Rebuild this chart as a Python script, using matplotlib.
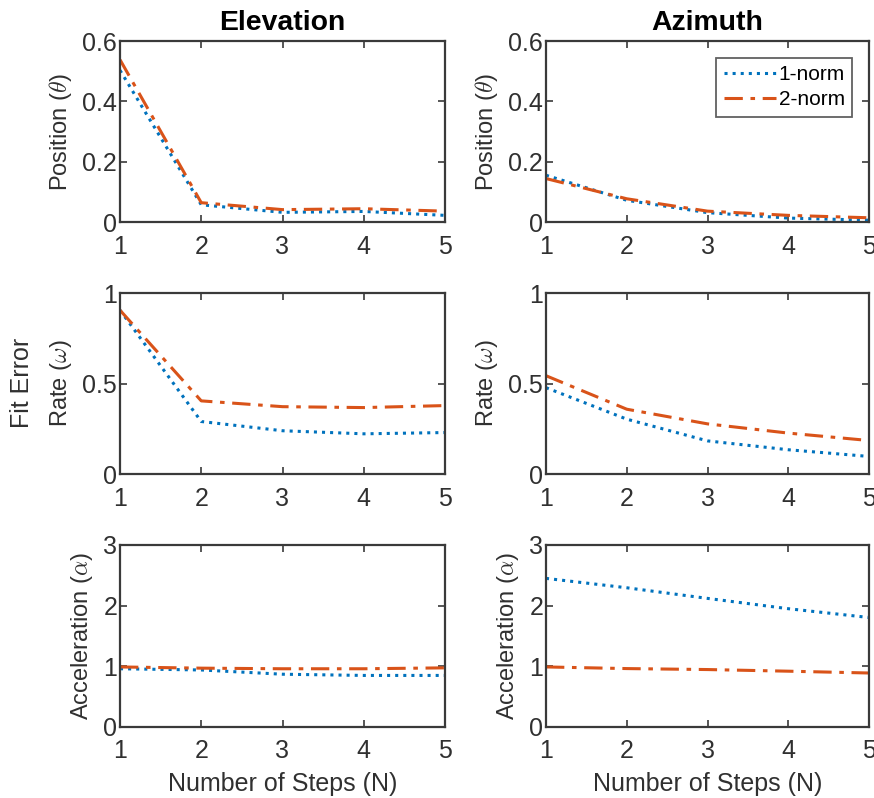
import numpy as np
import matplotlib.pyplot as plt
from matplotlib.ticker import FormatStrFormatter

# ------------------------------
# Fit error vs number of steps
# ------------------------------
steps = [1, 2, 3, 4, 5]

# Elevation
elev_pos_1 = [0.503, 0.057, 0.032, 0.035, 0.022]
elev_pos_2 = [0.538, 0.064, 0.041, 0.044, 0.036]
elev_rate_1 = [0.905, 0.290, 0.239, 0.222, 0.229]
elev_rate_2 = [0.905, 0.404, 0.372, 0.367, 0.378]
elev_acc_1 = [0.96, 0.94, 0.87, 0.85, 0.85]
elev_acc_2 = [0.99, 0.97, 0.96, 0.96, 0.975]

# Azimuth
azim_pos_1 = [0.155, 0.072, 0.031, 0.013, 0.006]
azim_pos_2 = [0.144, 0.077, 0.036, 0.022, 0.014]
azim_rate_1 = [0.477, 0.303, 0.183, 0.134, 0.097]
azim_rate_2 = [0.543, 0.358, 0.277, 0.226, 0.185]
azim_acc_1 = [2.45, 2.295, 2.12, 1.95, 1.805]
azim_acc_2 = [0.99, 0.963, 0.947, 0.92, 0.89]

col_titles = ["Elevation", "Azimuth"]
row_labels = [r"Position ($\theta$)", r"Rate ($\omega$)", r"Acceleration ($\alpha$)"]
row_ylims = [(0, 0.6), (0, 1), (0, 3)]
row_yticks = [[0, 0.2, 0.4, 0.6], [0, 0.5, 1], [0, 1, 2, 3]]
legend_labels = ["1-norm", "2-norm"]

data = [
    [(elev_pos_1, elev_pos_2), (azim_pos_1, azim_pos_2)],
    [(elev_rate_1, elev_rate_2), (azim_rate_1, azim_rate_2)],
    [(elev_acc_1, elev_acc_2), (azim_acc_1, azim_acc_2)],
]

blue = "#0072BD"
orange = "#D95319"
dark = "#303030"
axcol = "#3a3a3a"

plt.rcParams["font.family"] = ["Liberation Sans", "DejaVu Sans"]
plt.rcParams["mathtext.fontset"] = "cm"
plt.rcParams["font.size"] = 17

fig = plt.figure(figsize=(8.74, 7.98), dpi=100)

W, H = 874.0, 798.0
col_x = [(120, 445), (546, 869)]
row_y = [(41, 222), (293, 474), (545, 727)]

axes = []
for r in range(3):
    for c in range(2):
        x0, x1 = col_x[c]
        y0, y1 = row_y[r]
        ax = fig.add_axes([x0 / W, 1 - y1 / H, (x1 - x0) / W, (y1 - y0) / H])
        ys1, ys2 = data[r][c]
        ax.plot(steps, ys1, linestyle=":", color=blue, linewidth=2.2, label=legend_labels[0])
        ax.plot(steps, ys2, linestyle="-.", color=orange, linewidth=2.2,
                dashes=(6, 2.5, 1.5, 2.5), label=legend_labels[1])
        ax.set_xlim(1, 5)
        ax.set_ylim(*row_ylims[r])
        ax.set_xticks(steps)
        ax.set_yticks(row_yticks[r])
        ax.yaxis.set_major_formatter(FormatStrFormatter("%g"))
        ax.tick_params(direction="in", length=5, width=1.2, color=axcol,
                       labelcolor=dark, labelsize=18, top=True, right=True)
        ax.tick_params(axis="x", pad=9)
        ax.tick_params(axis="y", pad=2)
        for sp in ax.spines.values():
            sp.set_color(axcol)
            sp.set_linewidth(1.6)
        ax.set_ylabel(row_labels[r], color=dark, labelpad=6)
        if r == 0:
            ax.set_title(col_titles[c], fontweight="bold", color="black", pad=8)
        if r == 2:
            ax.set_xlabel("Number of Steps (N)", color=dark, fontsize=18, labelpad=6)
        axes.append(ax)

# legend sits in the azimuth position panel
leg = axes[1].legend(loc="upper right", fontsize=15, frameon=True, fancybox=False,
                     handlelength=2.5, handletextpad=0.15, borderpad=0.35,
                     labelspacing=0.3, borderaxespad=0.8)
leg.get_frame().set_edgecolor(axcol)
leg.get_frame().set_linewidth(1.3)

fig.text(22 / W, 1 - 383 / H, "Fit Error", rotation=90, ha="center", va="center",
         color=dark, fontsize=18)

fig.savefig("out.png", dpi=100)
